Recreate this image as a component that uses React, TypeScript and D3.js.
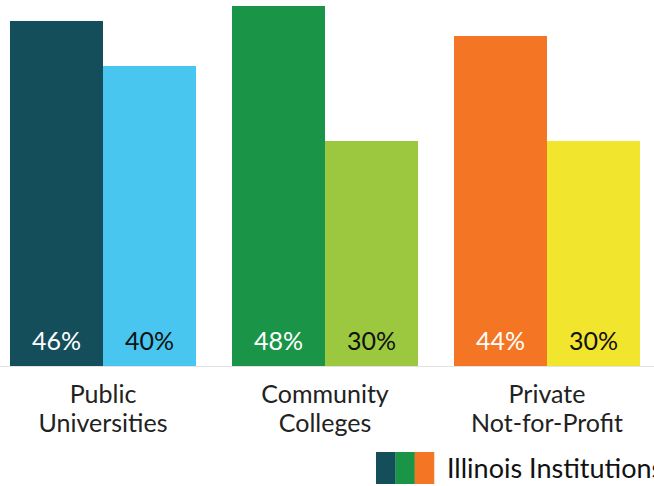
import React from "react";
import * as d3 from "d3";

const categories = ["Public Universities", "Community Colleges", "Private Not-for-Profit"];
const categoryLines = [["Public", "Universities"], ["Community", "Colleges"], ["Private", "Not-for-Profit"]];
const illinoisValues = [46, 48, 44];
const otherValues = [40, 30, 30];
const illinoisColors = ["#144e5b", "#1a9548", "#f47523"];
const otherColors = ["#48c6f0", "#9bc83f", "#f1e52e"];
const legendLabel = "Illinois Institutions";

const W = 654;
const H = 486;
const FONT = "Lato, 'Open Sans', sans-serif";

export default function App() {
  const x0 = d3.scaleBand<string>().domain(categories).range([10, 640]).paddingInner(36 / 222).paddingOuter(0);
  const x1 = d3.scaleBand<string>().domain(["il", "other"]).range([0, x0.bandwidth()]);
  const y = d3.scaleLinear().domain([0, 48]).range([366, 6]);

  return (
    <svg width={W} height={H} style={{ position: "absolute", left: 0, top: 0 }} fontFamily={FONT}>
      <rect x={0} y={0} width={W} height={H} fill="#fff" />
      {categories.map((c, i) => {
        const gx = x0(c)!;
        const bars = [
          { k: "il", v: illinoisValues[i], color: illinoisColors[i], text: "#fff" },
          { k: "other", v: otherValues[i], color: otherColors[i], text: "#111" },
        ];
        return (
          <g key={c}>
            {bars.map((b) => (
              <g key={b.k}>
                <rect x={gx + x1(b.k)!} y={y(b.v)} width={x1.bandwidth()} height={y(0) - y(b.v)} fill={b.color} />
                <text x={gx + x1(b.k)! + x1.bandwidth() / 2} y={350} textAnchor="middle" fontSize={25} fill={b.text}>
                  {b.v}%
                </text>
              </g>
            ))}
            {categoryLines[i].map((ln, j) => (
              <text key={j} x={gx + x0.bandwidth() / 2} y={403 + j * 29} textAnchor="middle" fontSize={25} fill="#222">
                {ln}
              </text>
            ))}
          </g>
        );
      })}
      <line x1={0} x2={W} y1={366.5} y2={366.5} stroke="#e3e3e3" strokeWidth={1} />
      {illinoisColors.map((c, i) => (
        <rect key={c} x={376 + i * 19.33} y={452} width={19.6} height={32} fill={c} />
      ))}
      <text x={447} y={478} fontSize={27} fill="#111">{legendLabel}</text>
    </svg>
  );
}
